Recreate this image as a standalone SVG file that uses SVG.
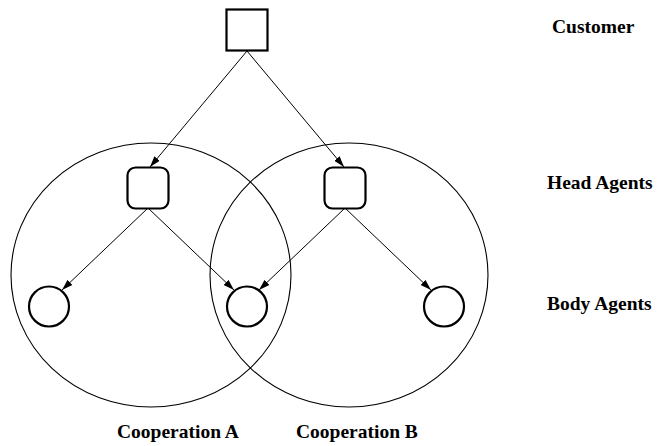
<svg xmlns="http://www.w3.org/2000/svg" width="664" height="446" viewBox="0 0 664 446">
  <style>
    .bg { fill: #ffffff; }
    .group { fill: none; stroke: #000; stroke-width: 1.1; }
    .node { fill: #ffffff; stroke: #000; stroke-width: 2.2; }
    .edge { fill: none; stroke: #000; stroke-width: 1; marker-end: url(#arrow); }
    .label { font-family: "Liberation Serif", "Times New Roman", serif; font-weight: bold; font-size: 19.5px; fill: #000; }
  </style>
  <defs>
    <marker id="arrow" markerUnits="userSpaceOnUse" markerWidth="12" markerHeight="8" refX="11" refY="4" orient="auto">
      <path d="M0,0.5 L11,4 L0,7.5 z" fill="#000"/>
    </marker>
  </defs>
  <rect class="bg" x="0" y="0" width="664" height="446"/>

  <!-- cooperation regions -->
  <g id="cooperation-a">
    <ellipse class="group" cx="151" cy="275" rx="140" ry="132"/>
    <text class="label" x="117" y="438">Cooperation A</text>
  </g>
  <g id="cooperation-b">
    <ellipse class="group" cx="349" cy="275" rx="139" ry="132"/>
    <text class="label" x="296" y="438">Cooperation B</text>
  </g>

  <!-- connectors -->
  <g id="connectors">
    <line class="edge" x1="247" y1="51" x2="150" y2="167"/>
    <line class="edge" x1="247" y1="51" x2="344" y2="167"/>
    <line class="edge" x1="148" y1="208" x2="62" y2="290"/>
    <line class="edge" x1="148" y1="208" x2="234" y2="290"/>
    <line class="edge" x1="345" y1="208" x2="259" y2="290"/>
    <line class="edge" x1="345" y1="208" x2="431" y2="290"/>
  </g>

  <!-- nodes -->
  <g id="customer">
    <rect class="node" x="226.5" y="9.5" width="41" height="41"/>
  </g>
  <g id="head-agent-a">
    <rect class="node" x="127.5" y="167.5" width="41" height="41" rx="8" ry="8"/>
  </g>
  <g id="head-agent-b">
    <rect class="node" x="324.5" y="167.5" width="41" height="41" rx="8" ry="8"/>
  </g>
  <g id="body-agent-1">
    <circle class="node" cx="49" cy="306.5" r="20"/>
  </g>
  <g id="body-agent-2">
    <circle class="node" cx="247" cy="306.5" r="20"/>
  </g>
  <g id="body-agent-3">
    <circle class="node" cx="444" cy="306.5" r="20"/>
  </g>

  <!-- level labels -->
  <g id="legend">
    <text class="label" x="552" y="33">Customer</text>
    <text class="label" x="547" y="189">Head Agents</text>
    <text class="label" x="547" y="310">Body Agents</text>
  </g>
</svg>
